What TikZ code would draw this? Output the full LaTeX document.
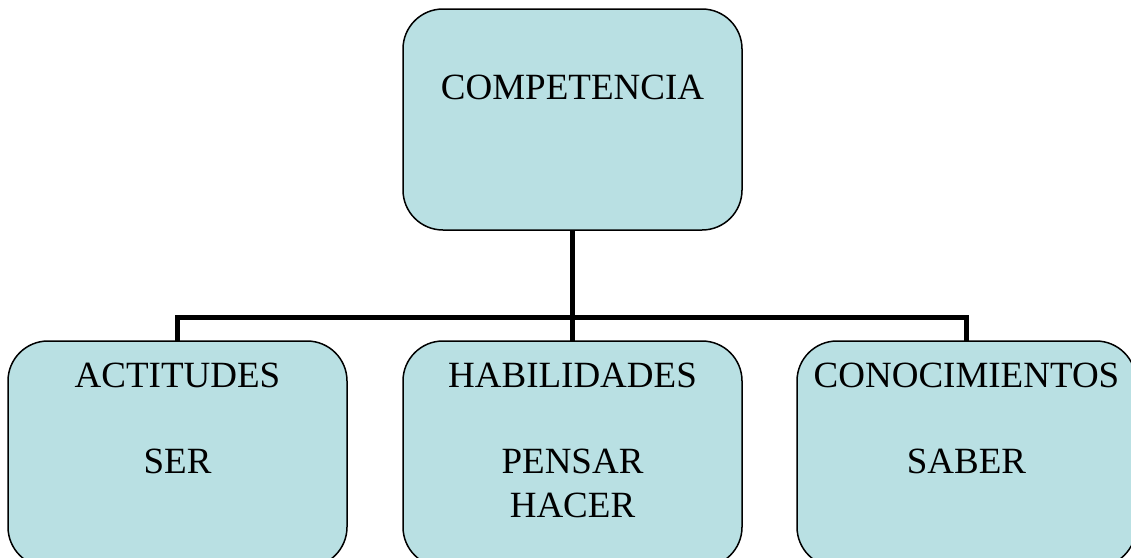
\documentclass[tikz,border=0pt]{standalone}
\usepackage{fontspec}
\setmainfont{Liberation Serif}
\definecolor{boxfill}{RGB}{185,224,227}
\begin{document}
\begin{tikzpicture}[x=1pt,y=-1pt,
  box/.style={draw=black, line width=1.5pt, fill=boxfill, rounded corners=40pt,
    minimum width=339pt, inner sep=0pt, outer sep=0pt},
  lbl/.style={anchor=base, inner sep=0pt, font=\fontsize{37}{43}\selectfont},
  bus/.style={line width=5pt, line join=miter}]
\useasboundingbox (0,0) rectangle (1131,557);
\node[box, minimum height=221pt] (top) at (572.5,119.5) {};
\node[box, minimum height=226pt] (act) at (177.5,454) {};
\node[box, minimum height=226pt] (hab) at (572.5,454) {};
\node[box, minimum height=226pt] (con) at (966.5,454) {};
\coordinate (bc) at (572.5,317);
\draw[bus] (top.south) -- (bc);
\draw[bus] (act.north) -- (act.north |- bc) -- (con.north |- bc) -- (con.north);
\draw[bus] (hab.north) -- (bc);
\node[lbl] (t1) at (572.5,99) {COMPETENCIA};
\node[lbl] (a1) at (177.5,387) {ACTITUDES};
\node[lbl] (a2) at (177.5,473) {SER};
\node[lbl] (h1) at (572.5,387) {HABILIDADES};
\node[lbl] (h2) at (572.5,473) {PENSAR};
\node[lbl] (h3) at (572.5,517) {HACER};
\node[lbl] (c1) at (966.5,387) {CONOCIMIENTOS};
\node[lbl] (c2) at (966.5,473) {SABER};
\end{tikzpicture}
\end{document}
